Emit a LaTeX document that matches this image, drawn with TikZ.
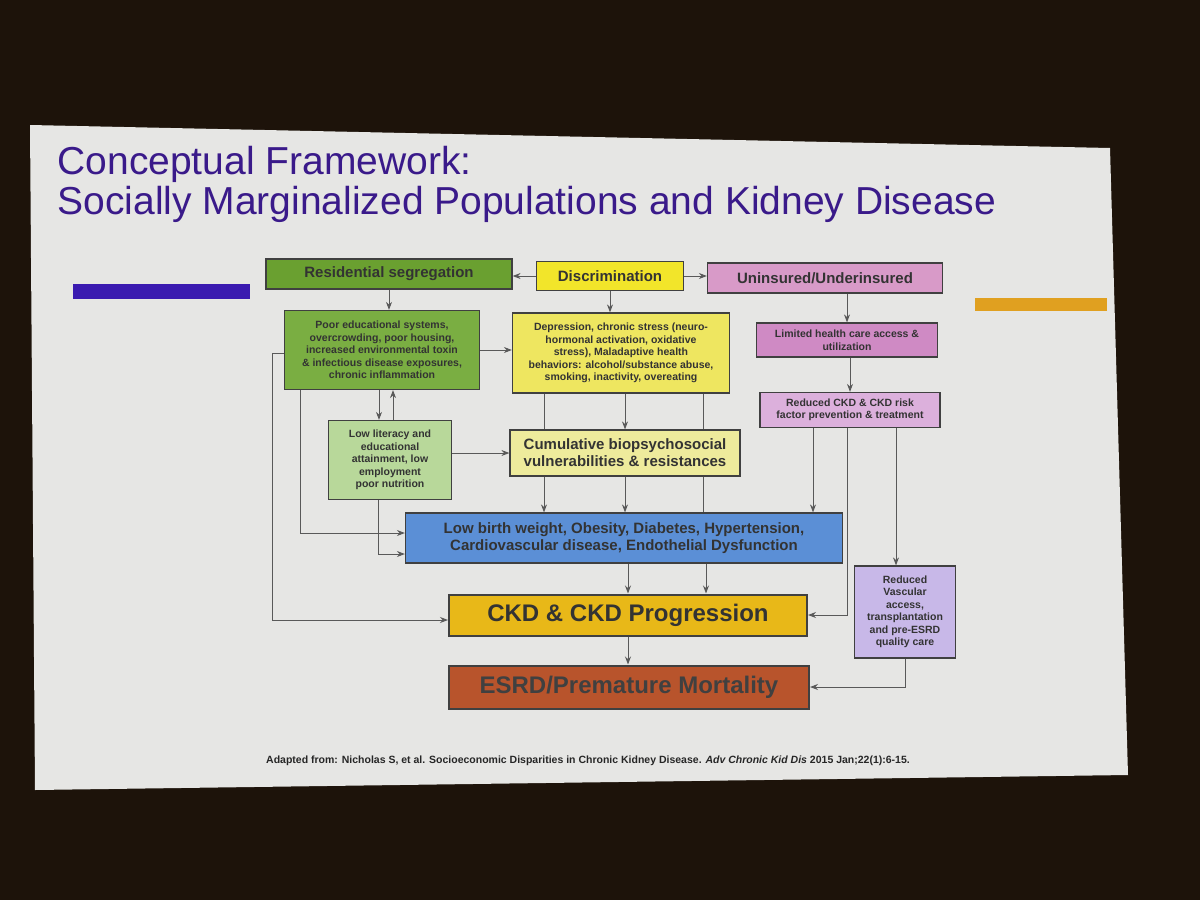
\documentclass[tikz,border=0pt]{standalone}
\usepackage{fontspec}
\setmainfont{Liberation Sans}
\usetikzlibrary{arrows.meta}
\definecolor{titlecol}{HTML}{3A1A8A}
\definecolor{resgreen}{HTML}{6AA030}
\definecolor{poorgreen}{HTML}{7AAE42}
\definecolor{litgreen}{HTML}{B8D89A}
\definecolor{discyel}{HTML}{F2E52A}
\definecolor{depyel}{HTML}{EEE660}
\definecolor{cumyel}{HTML}{EEEB9C}
\definecolor{pinkA}{HTML}{D89AC8}
\definecolor{pinkB}{HTML}{CF8AC4}
\definecolor{pinkC}{HTML}{DCB0DC}
\definecolor{lowblue}{HTML}{5B8FD6}
\definecolor{ckdgold}{HTML}{E8B818}
\definecolor{vascpurp}{HTML}{C8B8E8}
\definecolor{esrdrust}{HTML}{B8542C}
\definecolor{slide}{HTML}{E6E6E4}
\definecolor{barpurp}{HTML}{3A1AB0}
\definecolor{barorange}{HTML}{E0A020}
\tikzset{
  box/.style={draw=black!75, line width=1.2pt, inner sep=2pt, align=center,
    font=\bfseries\fontsize{10.5}{12.5}\selectfont, text=black!80},
  head/.style={box, font=\bfseries\fontsize{15}{17}\selectfont},
  big/.style={box, line width=2pt, font=\bfseries\fontsize{24}{27}\selectfont, text depth=4pt},
  arr/.style={-{Stealth[length=8pt,width=6pt]}, black!65, line width=1pt},
  ln/.style={black!65, line width=1pt}
}
\begin{document}
\begin{tikzpicture}[x=1pt, y=-1pt]
\useasboundingbox (0,0) rectangle (1200,900);
\fill[black!85!brown] (0,0) rectangle (1200,900);
\fill[slide] (30,125) -- (1110,148) -- (1128,775) -- (35,790) -- cycle;

% title and bars
\node[anchor=west, titlecol, align=left, font=\fontsize{39}{40}\selectfont] (title) at (54,184)
  {Conceptual Framework:\\Socially Marginalized Populations and Kidney Disease};
\fill[barpurp] (73,284) rectangle (250,299);
\fill[barorange] (975,298) rectangle (1107,311);

% top row
\node[head, fill=resgreen, minimum width=246, minimum height=30] (res) at (389,274) {Residential segregation};
\node[head, fill=discyel, minimum width=147, minimum height=29] (disc) at (610,276) {Discrimination};
\node[head, fill=pinkA, minimum width=235, minimum height=30] (unins) at (825,278) {Uninsured/Underinsured};

% second row
\node[box, fill=poorgreen, minimum width=195, minimum height=79] (poor) at (382,350)
  {Poor educational systems,\\overcrowding, poor housing,\\increased environmental toxin\\\& infectious disease exposures,\\chronic inflammation};
\node[box, fill=depyel, minimum width=217, minimum height=80] (dep) at (621,353)
  {Depression, chronic stress (neuro-\\hormonal activation, oxidative\\stress), Maladaptive health\\behaviors: alcohol/substance abuse,\\smoking, inactivity, overeating};
\node[box, fill=pinkB, minimum width=181, minimum height=34] (lim) at (847,340)
  {Limited health care access \&\\utilization};
\node[box, fill=pinkC, minimum width=180, minimum height=35] (red) at (850,410)
  {Reduced CKD \& CKD risk\\factor prevention \& treatment};

% third row
\node[box, fill=litgreen, minimum width=123, minimum height=79] (lit) at (390,460)
  {Low literacy and\\educational\\attainment, low\\employment\\poor nutrition};
\node[head, fill=cumyel, minimum width=230, minimum height=46] (cum) at (625,453)
  {Cumulative biopsychosocial\\vulnerabilities \& resistances};
\node[head, fill=lowblue, minimum width=437, minimum height=50] (lbw) at (624,538)
  {Low birth weight, Obesity, Diabetes, Hypertension,\\Cardiovascular disease, Endothelial Dysfunction};
\node[big, fill=ckdgold, minimum width=358, minimum height=41] (ckd) at (628,615) {CKD \& CKD Progression};
\node[box, fill=vascpurp, minimum width=101, minimum height=92] (vasc) at (905,612)
  {Reduced\\Vascular\\access,\\transplantation\\and pre-ESRD\\quality care};
\node[big, fill=esrdrust, minimum width=360, minimum height=43, text=black!75] (esrd) at (629,687) {ESRD/Premature Mortality};

% connectors
\draw[arr] (disc.west) -- (res.east |- disc.west);
\draw[arr] (disc.east) -- (unins.west |- disc.east);
\draw[arr] (res.south) -- (poor.north -| res.south);
\draw[arr] (disc.south) -- (dep.north -| disc.south);
\draw[arr] (unins.south -| lim.north) -- (lim.north);
\draw[arr] (lim.south -| red.north) -- (red.north);
\draw[arr] (poor.east) -- (dep.west |- poor.east);
\draw[arr] ([xshift=-3pt]poor.south) -- ([xshift=-11pt]lit.north);
\draw[arr] ([xshift=3pt]lit.north) -- ([xshift=11pt]poor.south);
\draw[arr] (lit.east |- cum.west) -- (cum.west);
\draw[arr] (dep.south -| cum.north) -- (cum.north);
\draw[ln] ([xshift=-77pt]dep.south) -- ([xshift=-81pt]cum.north);
\draw[ln] ([xshift=82pt]dep.south) -- ([xshift=78pt]cum.north);
\draw[arr] ([xshift=-81pt]cum.south) -- ([xshift=-80pt]lbw.north);
\draw[arr] (cum.south) -- ([xshift=1pt]lbw.north);
\draw[ln] ([xshift=78pt]cum.south) -- ([xshift=79pt]lbw.north);
\draw[arr] ([xshift=-37pt]red.south) -- ([xshift=189pt]lbw.north);
\draw[arr] ([xshift=-12pt]lit.south) |- ([yshift=-16pt]lbw.west);
\draw[arr] ([xshift=-82pt]poor.south) |- ([yshift=5pt]lbw.west);
\coordinate (lcorner) at (272,620);
\draw[arr] ([yshift=-3pt]poor.west) -| (lcorner) -- (lcorner -| ckd.west);
\draw[arr] (lbw.south -| ckd.north) -- (ckd.north);
\draw[arr] ([xshift=82pt]lbw.south) -- ([xshift=78pt]ckd.north);
\draw[arr] ([xshift=-3pt]red.south) |- (ckd.east);
\draw[arr] ([xshift=46pt]red.south) -- (vasc.north -| 896,0);
\draw[arr] (ckd.south) -- (esrd.north -| ckd.south);
\draw[arr] (vasc.south) |- (esrd.east);

% citation
\node[font=\bfseries\fontsize{10.5}{12}\selectfont, text=black!85] (cite) at (588,761)
  {Adapted from: Nicholas S, et al. Socioeconomic Disparities in Chronic Kidney Disease. \textit{Adv Chronic Kid Dis} 2015 Jan;22(1):6-15.};
\end{tikzpicture}
\end{document}
